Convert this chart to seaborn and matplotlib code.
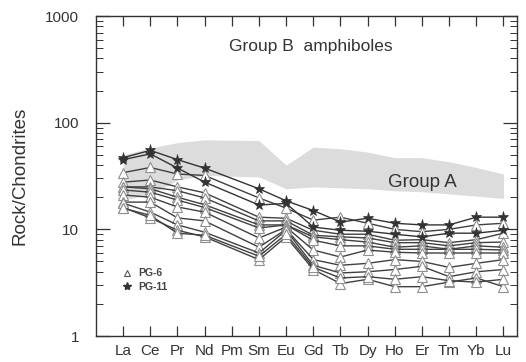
import numpy as np
import pandas as pd
import seaborn as sns
import matplotlib
matplotlib.use("Agg")
import matplotlib.pyplot as plt
from matplotlib.lines import Line2D
from matplotlib.ticker import LogLocator, FixedLocator, FixedFormatter, NullFormatter

sns.set_style("ticks")
plt.rcParams['font.family'] = ['Liberation Sans', 'DejaVu Sans']

# ---- data ----
elements = ["La", "Ce", "Pr", "Nd", "Pm", "Sm", "Eu", "Gd", "Tb", "Dy", "Ho", "Er", "Tm", "Yb", "Lu"]
measured = ["La", "Ce", "Pr", "Nd", "Sm", "Eu", "Gd", "Tb", "Dy", "Ho", "Er", "Tm", "Yb", "Lu"]

groupA_upper = [50, 58, 65, 69, 68, 40, 59, 57, 53, 47, 47, 43, 38, 33]
groupA_lower = [19, 21, 29, 32, 31, 24, 25, 24.5, 24, 23, 22.5, 21.5, 20.5, 19.5]

pg6 = {
    "T1": [34, 38, 33, 32, 19.7, 15.8, 12.2, 13, 11.4, 10, 9.5, 10, 11, 11.4],
    "T2": [27.7, 29, 25, 22, 13, 12.7, 9.8, 9, 9, 7.9, 8, 7.5, 8, 9.2],
    "T3": [25, 25, 23, 19.7, 12, 12, 8.8, 8.5, 8.3, 7.5, 7.5, 7, 7.5, 7.6],
    "T4": [25, 24, 20, 17, 11, 11, 8.5, 8, 7.6, 6.8, 7, 6.5, 7, 6.8],
    "T5": [23.4, 22.3, 18.8, 16, 10.3, 11, 7.9, 7, 7, 6.5, 6.5, 6.5, 6.5, 6.4],
    "T6": [21, 20, 16.2, 14.5, 8.3, 10.5, 6.4, 5.5, 6.4, 6.1, 6, 6, 6, 6],
    "T7": [18, 18, 12.8, 12, 6.8, 10, 5.2, 4.6, 4.8, 5.2, 5, 4.4, 4.8, 5.2],
    "T8": [17.6, 14.5, 11, 9.4, 6.0, 9.8, 4.6, 3.9, 4.0, 4.2, 4.5, 3.6, 4.0, 4.2],
    "T9": [16, 12.8, 9.8, 8.5, 5.2, 8.5, 4.2, 3.1, 3.4, 2.9, 2.9, 3.2, 3.5, 2.9],
    "T10": [15.8, 13.5, 9.2, 8.8, 5.6, 9, 4.4, 3.5, 3.6, 3.4, 3.6, 3.3, 3.2, 3.4],
}
pg11 = {
    "S1": [47, 55, 45, 37.5, 24, 18.5, 15, 11.7, 12.7, 11.4, 11, 11, 13, 13],
    "S2": [45, 51, 37.5, 27.7, 16.9, 17.5, 10.5, 9.8, 9.6, 9.0, 8.5, 9.2, 9.2, 9.8],
}

ytick_vals = [1, 10, 100, 1000]
ytick_labels = ["1", "10", "100", "1000"]

# ---- figure ----
fig = plt.figure(figsize=(5.26, 3.62), dpi=100)
ax = fig.add_axes([96/526, 1-336/362, (517-96)/526, (336-16)/362])

pos = {e: i for i, e in enumerate(elements)}
xm = [pos[e] for e in measured]

ax.fill_between(xm, groupA_lower, groupA_upper, color="#dcdcdc", lw=0, zorder=0)

rows = []
for name, vals in pg6.items():
    for e, v in zip(measured, vals):
        rows.append(dict(series=name, group="PG-6", x=pos[e], y=v))
for name, vals in pg11.items():
    for e, v in zip(measured, vals):
        rows.append(dict(series=name, group="PG-11", x=pos[e], y=v))
df = pd.DataFrame(rows)

for name in pg6:
    d = df[df.series == name]
    sns.lineplot(data=d, x="x", y="y", ax=ax, color="#404040", lw=1.0,
                 marker="^", markersize=6.5, markerfacecolor="white",
                 markeredgecolor="#8f8f8f", markeredgewidth=0.8,
                 estimator=None, sort=False, legend=False, zorder=3)
for name in pg11:
    d = df[df.series == name]
    sns.lineplot(data=d, x="x", y="y", ax=ax, color="#333333", lw=1.0,
                 marker="*", markersize=8, markerfacecolor="#333333",
                 markeredgecolor="#333333", markeredgewidth=0.5,
                 estimator=None, sort=False, legend=False, zorder=4)

ax.set_yscale("log")
ax.set_ylim(1, 1000)
ax.set_xlim(-1, len(elements) - 0.5)
ax.yaxis.set_major_locator(FixedLocator(ytick_vals))
ax.yaxis.set_major_formatter(FixedFormatter(ytick_labels))
ax.yaxis.set_minor_locator(LogLocator(base=10, subs=np.arange(2, 10)))
ax.yaxis.set_minor_formatter(NullFormatter())
ax.set_xticks(range(len(elements)))
ax.set_xticklabels(elements)
ax.tick_params(axis="both", which="both", direction="in", top=True, right=True,
               color="#333333")
ax.tick_params(axis="y", which="major", length=10, width=0.9, labelsize=11, pad=12, labelcolor="#333333")
ax.tick_params(axis="y", which="minor", length=5, width=0.7)
ax.tick_params(axis="x", which="major", length=7, width=0.9, labelsize=11, pad=6, labelcolor="#333333")
for s in ax.spines.values():
    s.set_linewidth(1.0)
    s.set_color("#333333")

ax.set_xlabel("")
ax.set_ylabel("Rock/Chondrites", fontsize=13.5, color="#333333", labelpad=12)

ax.text(0.51, 0.905, "Group B  amphiboles", transform=ax.transAxes, ha="center",
        va="center", fontsize=12.5, color="#333333")
ax.text(11.0, 27.5, "Group A", ha="center", va="center", fontsize=13.5, color="#333333")

handles = [
    Line2D([], [], ls="none", marker="^", markersize=5, markerfacecolor="white",
           markeredgecolor="#555555", markeredgewidth=0.8),
    Line2D([], [], ls="none", marker="*", markersize=6, color="#333333"),
]
leg = ax.legend(handles, ["PG-6", "PG-11"], loc="upper left",
                bbox_to_anchor=(0.05, 0.228), frameon=False, handlelength=1.0,
                handletextpad=0.5, labelspacing=0.35, borderpad=0,
                prop={"size": 7.5, "weight": "bold"})
for t in leg.get_texts():
    t.set_color("#444444")

fig.savefig("out.png", dpi=100)
